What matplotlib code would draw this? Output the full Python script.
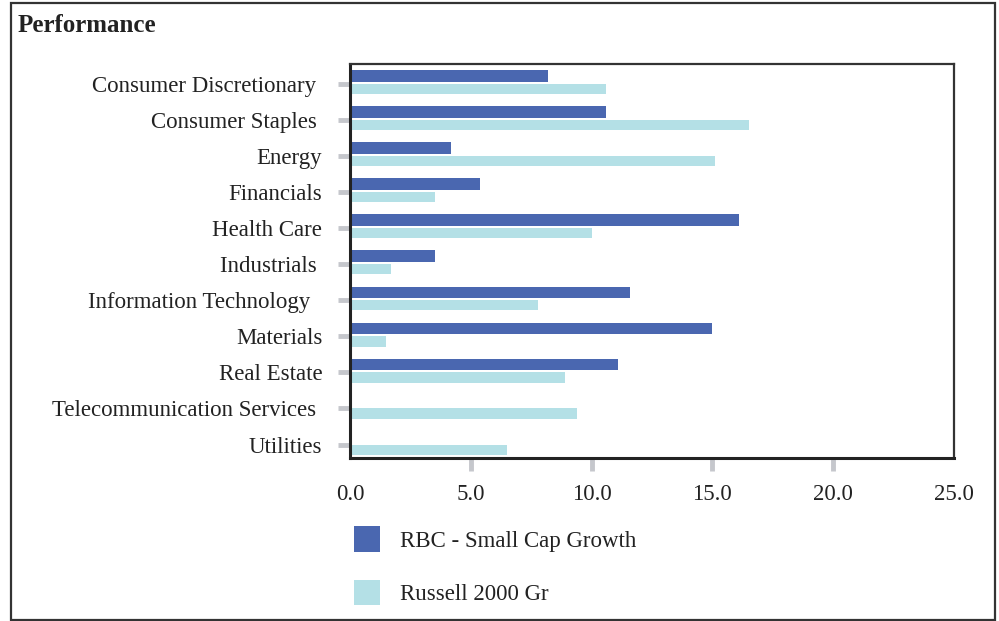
import matplotlib
matplotlib.use("Agg")
import matplotlib.pyplot as plt
from matplotlib.patches import Rectangle
import numpy as np

# ── Data ──────────────────────────────────────────────────────────────────────
sectors = [
    "Consumer Discretionary ",
    "Consumer Staples ",
    "Energy",
    "Financials",
    "Health Care",
    "Industrials ",
    "Information Technology  ",
    "Materials",
    "Real Estate",
    "Telecommunication Services ",
    "Utilities",
]
rbc_values = [8.2, 10.6, 4.2, 5.4, 16.1, 3.5, 11.6, 15.0, 11.1, 0.1, 0.1]
russell_values = [10.6, 16.5, 15.1, 3.5, 10.0, 1.7, 7.8, 1.5, 8.9, 9.4, 6.5]
series_names = ["RBC - Small Cap Growth", "Russell 2000 Gr"]
x_ticks = [0, 5, 10, 15, 20, 25]

BLUE = "#4a67b0"
CYAN = "#b4e0e6"
TICK_GRAY = "#c5c7cc"
TEXT = "#222222"
FS = 16.5

plt.rcParams["font.family"] = ["Liberation Serif", "DejaVu Serif"]

fig = plt.figure(figsize=(9.99, 6.21), dpi=100)
fig.patch.set_facecolor("white")

# outer frame
fig.patches.append(Rectangle((11 / 999, 1 - 620 / 621), (995 - 11) / 999, (620 - 3) / 621,
                             transform=fig.transFigure, fill=False,
                             edgecolor="#333333", linewidth=1.6))

fig.text(18 / 999, 1 - 25 / 621, "Performance", fontsize=18, fontweight="bold",
         color=TEXT, ha="left", va="center")

ax = fig.add_axes([350 / 999, 1 - 457.5 / 621, 604 / 999, 393.5 / 621])

y = np.arange(len(sectors))
ax.barh(y - 0.22, rbc_values, height=0.33, color=BLUE, label=series_names[0])
ax.barh(y + 0.14, russell_values, height=0.28, color=CYAN, label=series_names[1])

ax.set_xlim(0, 25)
ax.set_ylim(len(sectors) - 1 + 0.36, -0.56)

ax.set_yticks(y)
ax.set_yticklabels(sectors, fontsize=FS, color=TEXT)
ax.tick_params(axis="y", length=9, width=3.5, color=TICK_GRAY, pad=11)
for lbl in ax.get_yticklabels():
    lbl.set_verticalalignment("center_baseline")

ax.set_xticks(x_ticks)
ax.set_xticklabels([f"{v:.1f}" for v in x_ticks], fontsize=FS, color=TEXT)
ax.tick_params(axis="x", length=9, width=3.5, color=TICK_GRAY, pad=10)
# no tick marks at the two ends of the axis
for t in (ax.xaxis.get_major_ticks()[0], ax.xaxis.get_major_ticks()[-1]):
    t.tick1line.set_visible(False)

for side in ["left", "bottom"]:
    ax.spines[side].set_linewidth(2.2)
    ax.spines[side].set_color("#222222")
for side in ["top", "right"]:
    ax.spines[side].set_linewidth(1.6)
    ax.spines[side].set_color("#333333")

fig.legend(loc="upper left", bbox_to_anchor=(354 / 999, 1 - 526 / 621),
           frameon=False, fontsize=FS, handlelength=1.14, handleheight=1.35,
           handletextpad=0.85, labelspacing=1.22, borderpad=0, borderaxespad=0,
           labelcolor=TEXT)

fig.savefig("out.png", dpi=100, facecolor="white")
